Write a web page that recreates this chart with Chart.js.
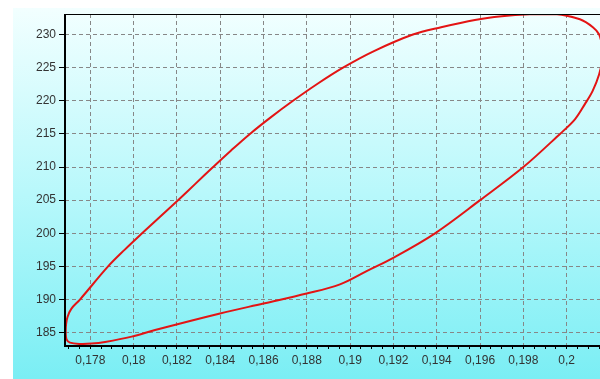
<!DOCTYPE html>
<html>
<head>
<meta charset="utf-8">
<script src="https://cdn.jsdelivr.net/npm/chart.js@4/dist/chart.umd.min.js"></script>
<style>
  html, body { margin: 0; padding: 0; background: #fff; overflow: hidden; width: 600px; height: 379px; }
  canvas { display: block; }
</style>
</head>
<body>
<canvas id="loop" width="610" height="379"></canvas>
<script>
// Hysteresis loop: upper branch left-to-right, round the right end, lower branch back
const loopX = [
  0.17686, 0.17688, 0.17695, 0.17712, 0.17752, 0.17882, 0.17958, 0.18039,
  0.18122, 0.18205, 0.18286, 0.18367, 0.18450, 0.18537, 0.18633, 0.18736, 0.18846,
  0.18967, 0.19110, 0.19290, 0.19420, 0.19576, 0.19700, 0.19830, 0.19945, 0.20061,
  0.20121, 0.20150, 0.20163, 0.20164, 0.20150, 0.20120, 0.20084, 0.20038, 0.19969,
  0.19800, 0.19600, 0.19392, 0.19199, 0.19076, 0.18953, 0.18799, 0.18599, 0.18399,
  0.18099, 0.17991, 0.17868, 0.17806, 0.17752, 0.17706, 0.17690, 0.17686
];
const loopY = [
  185.0, 186.3, 187.4, 188.6, 190.0, 195.0, 197.5, 200.0,
  202.5, 205.0, 207.5, 210.0, 212.5, 215.0, 217.5, 220.0, 222.5,
  225.0, 227.5, 230.0, 231.1, 232.2, 232.75, 233.05, 233.1, 232.3,
  231.1, 230.0, 228.2, 226.3, 224.0, 221.5, 219.5, 217.2, 215.0,
  210.0, 205.0, 200.0, 196.3, 194.3, 192.3, 190.9, 189.4, 187.9,
  185.4, 184.4, 183.6, 183.35, 183.3, 183.5, 184.0, 185.0
];

// Axis ranges and tick labels
const xRange = [0.17683, 0.20170];
const yRange = [183.14, 233.1];
const xMajorTicks = [0.178, 0.18, 0.182, 0.184, 0.186, 0.188, 0.19, 0.192, 0.194, 0.196, 0.198, 0.2];
const xMinorStep = 0.0005;
const yTicks = [185, 190, 195, 200, 205, 210, 215, 220, 225, 230];

const points = loopX.map((x, i) => ({ x: x, y: loopY[i] }));

const isMajor = v => xMajorTicks.some(t => Math.abs(t - v) < 1e-7);
const fmtComma = v => String(Number(v.toFixed(4))).replace('.', ',');

// Gradient backdrop plus the black frame lines (left, bottom, top)
const backdrop = {
  id: 'backdrop',
  beforeDraw(chart) {
    const { ctx, width, height } = chart;
    ctx.save();
    ctx.fillStyle = '#ffffff';
    ctx.fillRect(0, 0, width, height);
    const g = ctx.createLinearGradient(0, 8, 0, height);
    g.addColorStop(0, '#f2ffff');
    g.addColorStop(0.5, '#b8f8fb');
    g.addColorStop(1, '#7aeef4');
    ctx.fillStyle = g;
    ctx.fillRect(13, 8, width - 13, height - 8);
    ctx.restore();
  },
  afterDraw(chart) {
    const { ctx, chartArea } = chart;
    const { left, right, top, bottom } = chartArea;
    ctx.save();
    ctx.strokeStyle = '#000';
    ctx.lineWidth = 1.2;
    ctx.beginPath();
    ctx.moveTo(left, top + 0.5);
    ctx.lineTo(right, top + 0.5);
    ctx.stroke();
    ctx.lineWidth = 2;
    ctx.beginPath();
    ctx.moveTo(left, top);
    ctx.lineTo(left, bottom + 1);
    ctx.lineTo(right, bottom + 1);
    ctx.stroke();
    ctx.restore();
  }
};

Chart.defaults.font.family = '"Liberation Sans", Arial, sans-serif';
Chart.defaults.font.size = 12;
Chart.defaults.color = '#333';

new Chart(document.getElementById('loop'), {
  type: 'scatter',
  data: {
    datasets: [{
      data: points,
      showLine: true,
      borderColor: '#e31414',
      borderWidth: 2,
      pointRadius: 0,
      tension: 0.35,
      fill: false
    }]
  },
  options: {
    responsive: false,
    animation: false,
    layout: { padding: { top: 14, left: 0, right: 6.5, bottom: 0 } },
    plugins: { legend: { display: false }, tooltip: { enabled: false } },
    scales: {
      x: {
        type: 'linear',
        min: xRange[0],
        max: xRange[1],
        afterBuildTicks(scale) {
          const ticks = [];
          const start = Math.ceil(xRange[0] / xMinorStep);
          const end = Math.floor(xRange[1] / xMinorStep);
          for (let k = start; k <= end; k++) {
            ticks.push({ value: Number((k * xMinorStep).toFixed(5)) });
          }
          scale.ticks = ticks;
        },
        afterFit(scale) { scale.height = 34; },
        ticks: {
          autoSkip: false,
          maxRotation: 0,
          padding: 4,
          color: '#333',
          callback: v => isMajor(v) ? fmtComma(v) : ''
        },
        grid: {
          color: ctx => (ctx.tick && isMajor(ctx.tick.value)) ? '#878787' : 'rgba(0,0,0,0)',
          lineWidth: 1,
          tickColor: '#000',
          tickLength: 4,
          tickWidth: 1
        },
        border: { display: false, dash: [4, 3] }
      },
      y: {
        type: 'linear',
        min: yRange[0],
        max: yRange[1],
        afterBuildTicks(scale) {
          scale.ticks = yTicks.map(v => ({ value: v }));
        },
        afterFit(scale) { scale.width = 65; },
        ticks: {
          padding: 3,
          color: '#333',
          callback: v => String(v)
        },
        grid: {
          color: '#878787',
          lineWidth: 1,
          tickColor: '#000',
          tickLength: 6,
          tickWidth: 1
        },
        border: { display: false, dash: [4, 3] }
      }
    }
  },
  plugins: [backdrop]
});
</script>
</body>
</html>
